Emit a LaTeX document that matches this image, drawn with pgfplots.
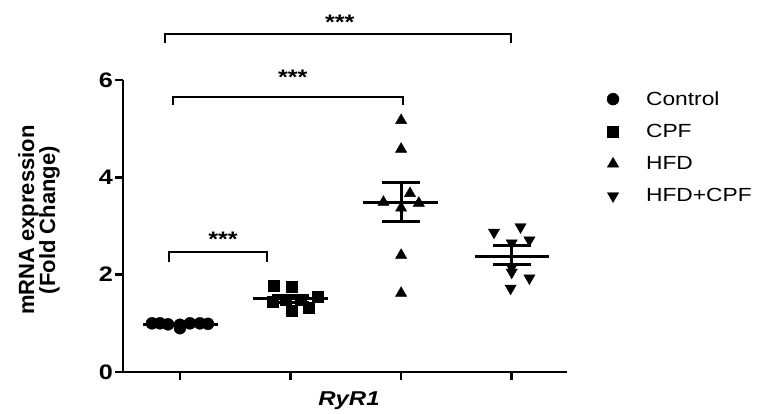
\documentclass[border=0pt]{standalone}
\usepackage{pgfplots}
\pgfplotsset{compat=1.18}
\usepackage{fontspec}
\setmainfont{Liberation Sans}[FakeStretch=1.2]
\newfontfamily\labelfont{Liberation Sans}
\begin{document}
\begin{tikzpicture}
\begin{axis}[
  scale only axis,
  width=444pt, height=292pt,
  xmin=0.485, xmax=4.5,
  ymin=0, ymax=6,
  axis x line*=bottom,
  axis y line*=left,
  axis line style={line width=2.5pt},
  tick style={line width=2.5pt, black},
  tick align=outside,
  major tick length=8pt,
  xtick={1,2,3,4}, xticklabels={},
  ytick={0,2,4,6},
  /pgf/number format/assume math mode=true,
  yticklabel style={font=\fontsize{21}{24}\selectfont\bfseries, inner sep=2pt},
  ylabel={mRNA expression\\(Fold Change)},
  ylabel style={at={(axis description cs:-0.142,0.52)}, anchor=south,
    align=center, inner sep=0pt, font=\labelfont\bfseries\fontsize{22}{21}\selectfont},
  xlabel={\textit{RyR1}},
  xlabel style={at={(axis description cs:0.509,0)}, anchor=north, yshift=-20pt,
    inner sep=0pt, font=\bfseries\fontsize{20}{22}\selectfont},
  clip=false,
  legend style={at={(axis description cs:1.083,0.975)}, anchor=north west,
    draw=none, fill=none, font=\fontsize{19}{22}\selectfont,
    row sep=13.5pt, cells={anchor=west},
    /tikz/every odd column/.append style={column sep=25pt}},
  legend image code/.code={\draw[#1] plot coordinates {(0pt,0pt)};},
]
% individual values
\addplot[only marks, mark=*, mark size=6pt, black, mark options={fill=black}]
  coordinates {(0.747,1.00) (0.819,1.00) (0.892,0.98) (1.000,0.90) (1.000,0.97)
               (1.090,1.00) (1.180,1.00) (1.253,0.99)};
\addlegendentry{Control}
\addplot[only marks, mark=square*, mark size=5.5pt, black, mark options={fill=black}]
  coordinates {(1.846,1.77) (2.010,1.75) (1.840,1.44) (2.010,1.25) (2.160,1.33)
               (2.250,1.54) (1.955,1.48) (2.090,1.48)};
\addlegendentry{CPF}
\addplot[only marks, mark=triangle*, mark size=6.5pt, black, mark options={fill=black}]
  coordinates {(3.000,5.17) (3.000,4.58) (3.080,3.67) (2.840,3.49) (3.000,3.37)
               (3.160,3.47) (3.000,2.40) (3.000,1.62)};
\addlegendentry{HFD}
\addplot[only marks, mark=triangle*, mark size=6.5pt, black,
  mark options={fill=black, rotate=180}]
  coordinates {(3.840,2.87) (4.080,2.98) (4.160,2.71) (4.000,2.65) (4.000,2.05)
               (4.160,1.93) (3.990,1.72) (4.000,2.15)};
\addlegendentry{HFD+CPF}
% means
\addplot[forget plot, black, line width=3pt] coordinates {(0.666,0.98) (1.343,0.98)};
\addplot[forget plot, black, line width=3pt] coordinates {(1.660,1.50) (2.340,1.50)};
\addplot[forget plot, black, line width=3pt] coordinates {(2.653,3.49) (3.330,3.49)};
\addplot[forget plot, black, line width=3pt] coordinates {(3.670,2.38) (4.340,2.38)};
% SEM bars
\addplot[forget plot, black, line width=3pt] coordinates {(1,0.96) (1,1.00)};
\addplot[forget plot, black, line width=3pt] coordinates {(1.83,1.43) (2.17,1.43)};
\addplot[forget plot, black, line width=3pt] coordinates {(1.83,1.57) (2.17,1.57)};
\addplot[forget plot, black, line width=3pt] coordinates {(2,1.43) (2,1.57)};
\addplot[forget plot, black, line width=3pt] coordinates {(2.83,3.10) (3.17,3.10)};
\addplot[forget plot, black, line width=3pt] coordinates {(2.83,3.90) (3.17,3.90)};
\addplot[forget plot, black, line width=3pt] coordinates {(3,3.10) (3,3.90)};
\addplot[forget plot, black, line width=3pt] coordinates {(3.83,2.20) (4.17,2.20)};
\addplot[forget plot, black, line width=3pt] coordinates {(3.83,2.59) (4.17,2.59)};
\addplot[forget plot, black, line width=3pt] coordinates {(4,2.20) (4,2.59)};
% significance brackets
\addplot[forget plot, black, line width=2pt] coordinates {(0.900,2.259) (0.900,2.464) (1.786,2.464) (1.786,2.259)};
\addplot[forget plot, black, line width=2pt] coordinates {(0.937,5.483) (0.937,5.647) (3.014,5.647) (3.014,5.483)};
\addplot[forget plot, black, line width=2pt] coordinates {(0.8645,6.76) (0.8645,6.94) (3.990,6.94) (3.990,6.76)};
\node[anchor=north, inner sep=0pt, font=\bfseries\fontsize{21}{21}\selectfont] at (axis cs:1.39,2.877) {***};
\node[anchor=north, inner sep=0pt, font=\bfseries\fontsize{21}{21}\selectfont] at (axis cs:2.02,6.205) {***};
\node[anchor=north, inner sep=0pt, font=\bfseries\fontsize{21}{21}\selectfont] at (axis cs:2.445,7.335) {***};
\end{axis}
\path[use as bounding box] (-123pt,-42pt) rectangle (636pt,372pt);
\end{tikzpicture}
\end{document}
